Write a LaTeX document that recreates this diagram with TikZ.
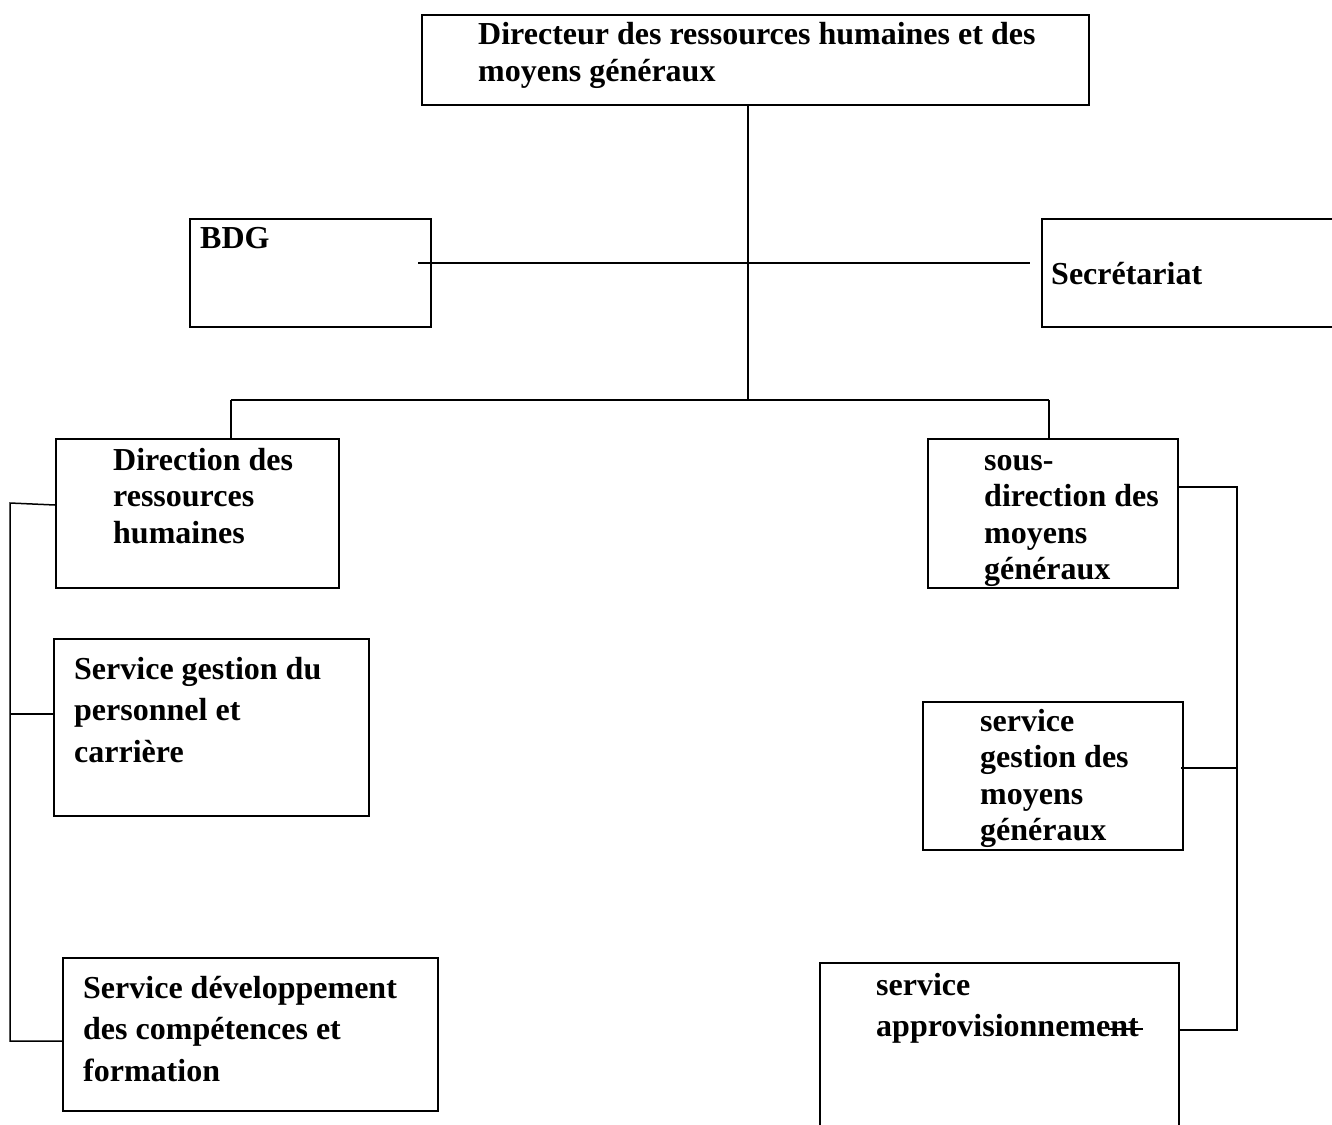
\documentclass[tikz,border=0pt]{standalone}
\usepackage{fontspec}
\setmainfont{Liberation Serif}
\newcommand\boxtext[1]{\begin{tabular}[t]{@{}l@{}}#1\end{tabular}}
\begin{document}
\begin{tikzpicture}[x=1pt,y=-1pt,
  unitbox/.style={draw, line width=2.2pt, rectangle, inner sep=0pt, anchor=north west},
  label36/.style={anchor=base west, inner sep=0pt,
    font=\bfseries\fontsize{32}{36.5}\selectfont},
  label41/.style={anchor=base west, inner sep=0pt,
    font=\bfseries\fontsize{32}{41.5}\selectfont},
  link/.style={line width=1.5pt}]
\fill[white] (0,0) rectangle (1332,1124);
\useasboundingbox (0,0) rectangle (1332,1124);
\clip (0,0) rectangle (1332,1124);

% boxes
\node[unitbox, minimum width=667, minimum height=90]  (top)  at (421,14)  {};
\node[unitbox, minimum width=241, minimum height=108] (bdg)  at (189,218) {};
\node[unitbox, minimum width=320, minimum height=108] (sec)  at (1041,218) {};
\node[unitbox, minimum width=283, minimum height=149] (drh)  at (55,438)  {};
\node[unitbox, minimum width=250, minimum height=149] (sdmg) at (927,438) {};
\node[unitbox, minimum width=315, minimum height=177] (sgp)  at (53,638)  {};
\node[unitbox, minimum width=260, minimum height=148] (sgmg) at (922,701) {};
\node[unitbox, minimum width=375, minimum height=153] (sdc)  at (62,957)  {};
\node[unitbox, minimum width=359, minimum height=180] (sapp) at (819,962) {};

% texts
\node[label36] (ttop)  at (478,45)  {\boxtext{Directeur des ressources humaines et des\\moyens généraux}};
\node[label36] (tbdg)  at (200,248) {BDG};
\node[label36] (tsec)  at (1051,284) {Secrétariat};
\node[label36] (tdrh)  at (113,470) {\boxtext{Direction des\\ressources\\humaines}};
\node[label36] (tsdmg) at (984,470) {\boxtext{sous-\\direction des\\moyens\\généraux}};
\node[label41] (tsgp)  at (74,679)  {\boxtext{Service gestion du\\personnel et\\carrière}};
\node[label36] (tsgmg) at (980,731) {\boxtext{service\\gestion des\\moyens\\généraux}};
\node[label41] (tsdc)  at (83,998)  {\boxtext{Service développement\\des compétences et\\formation}};
\node[label41] (tsapp) at (876,995) {\boxtext{service\\approvisionnement}};

% connector points
\coordinate (hub)   at (748,400);
\coordinate (mid)   at (748,263);
\coordinate (bdgE)  at (418,263);
\coordinate (secE)  at (1030,263);
\coordinate (lft)   at (231,400);
\coordinate (rgt)   at (1049,400);
\coordinate (lbT)   at (10,503);
\coordinate (lbA)   at (10,714);
\coordinate (lbB)   at (10,1041);
\coordinate (rbT)   at (1237,487);
\coordinate (rbA)   at (1237,768);
\coordinate (rbB)   at (1237,1030);
\coordinate (sgmgE) at (1181,768);
\coordinate (sappE) at (1180,1030);
\coordinate (stA)   at (1108,1029);
\coordinate (stB)   at (1143,1029);

% connectors
\draw[link] (top.south -| hub) -- (hub);
\draw[link] (bdgE) -- (secE);
\draw[link] (lft) -- (rgt);
\draw[link] (lft) -- (lft |- drh.north);
\draw[link] (rgt) -- (rgt |- sdmg.north);
\draw[link] (drh.west |- 0,505) -- (lbT) -- (lbB) -- (lbB -| sdc.west);
\draw[link] (lbA) -- (lbA -| sgp.west);
\draw[link] (sdmg.east |- rbT) -- (rbT) -- (rbB) -- (sappE);
\draw[link] (sgmgE) -- (rbA);
\draw[link] (stA) -- (stB);
\end{tikzpicture}
\end{document}
